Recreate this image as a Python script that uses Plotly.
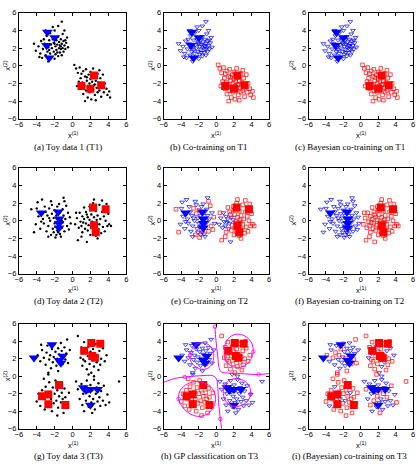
import plotly.graph_objects as go

W, H = 418, 467

# ---------------- DATA ----------------
# Toy data 1 (T1): cluster A (class "blue") and cluster B (class "red")
T1A = [(-4.1,1.7),(-3.8,2.2),(-3.6,1.4),(-3.5,2.8),(-3.4,0.9),(-3.3,1.9),(-3.2,3.0),(-3.1,2.5),(-3.0,1.2),(-2.9,3.4),
       (-2.8,1.6),(-2.7,2.1),(-2.7,0.5),(-2.6,2.9),(-2.5,1.4),(-2.5,3.7),(-2.4,2.4),(-2.3,1.0),(-2.3,2.0),(-2.2,3.0),
       (-2.1,1.6),(-2.1,2.6),(-2.0,0.8),(-2.0,4.0),(-1.9,2.2),(-1.9,1.3),(-1.8,2.9),(-1.8,1.8),(-1.7,2.4),(-1.6,1.1),
       (-1.6,3.3),(-1.5,2.0),(-1.5,2.7),(-1.4,1.5),(-1.4,2.3),(-1.3,1.9),(-1.3,3.0),(-1.2,2.5),(-1.2,1.2),(-1.1,2.0),
       (-1.1,3.6),(-1.0,2.8),(-1.0,1.6),(-0.9,2.3),(-0.9,4.0),(-0.8,1.9),(-0.7,2.6),(-0.6,3.2),(-0.5,2.1),(-1.2,5.0),
       (-2.2,4.4),(-3.0,4.0),(-1.6,4.5),(-4.3,2.5),(-3.7,1.0),(-2.6,1.8),(-1.7,1.5),(-2.0,2.5),(-1.3,2.2),(-0.8,2.9)]
T1B = [(0.2,0.1),(0.4,-0.3),(0.6,-0.8),(0.8,-0.2),(0.9,-1.4),(1.0,-2.6),(1.1,-1.9),(1.2,-0.6),(1.2,-3.2),(1.3,-2.2),
       (1.4,-1.2),(1.5,-2.8),(1.5,-0.4),(1.6,-1.7),(1.7,-3.6),(1.7,-2.4),(1.8,-1.0),(1.9,-2.0),(1.9,-3.0),(2.0,-1.5),
       (2.0,-0.7),(2.1,-2.3),(2.1,-3.8),(2.2,-1.8),(2.3,-2.7),(2.3,-0.3),(2.4,-1.3),(2.5,-2.1),(2.5,-3.3),(2.6,-1.7),
       (2.7,-2.5),(2.8,-0.9),(2.8,-3.0),(2.9,-1.9),(3.0,-2.8),(3.1,-1.4),(3.2,-3.5),(3.3,-2.4),(3.4,-1.0),(3.5,-3.0),
       (3.6,-2.0),(3.8,-2.6),(3.9,-3.3),(4.1,-2.9),(4.2,-3.6),(0.5,-2.3),(0.7,-1.8),(1.4,-4.0),(2.6,-3.9),(3.0,-0.5),
       (1.0,-0.9),(1.8,-2.6),(2.4,-2.2),(2.2,-1.0),(1.6,-1.3)]
T1_lab_blue = [(-2.8,3.8),(-2.0,3.2),(-2.9,2.3),(-2.6,0.9)]
T1_lab_red = [(2.4,-1.1),(1.0,-2.3),(3.2,-2.2),(2.0,-2.6)]

# Toy data 2 (T2)
T2A = [(-4.6,1.3),(-4.3,-1.3),(-4.1,-0.4),(-3.9,2.1),(-3.8,0.5),(-3.6,-0.9),(-3.4,2.4),(-3.3,0.2),(-3.2,-0.3),(-3.0,1.0),
       (-2.9,-1.2),(-2.8,0.6),(-2.7,-0.6),(-2.6,1.4),(-2.5,0.0),(-2.4,-1.6),(-2.3,0.8),(-2.2,-0.9),(-2.1,0.3),(-2.0,1.2),
       (-2.0,-0.3),(-1.9,-1.9),(-1.8,0.6),(-1.7,-1.1),(-1.7,1.6),(-1.6,0.1),(-1.5,-0.5),(-1.4,0.9),(-1.4,-1.5),(-1.3,0.3),
       (-1.2,-0.8),(-1.1,1.3),(-1.1,-0.2),(-1.0,2.6),(-1.0,0.6),(-0.9,-1.2),(-0.8,0.2),(-0.7,1.7),(-0.6,-0.6),(-0.5,0.9),
       (-0.4,-1.0),(-0.3,0.4),(-2.7,-1.8),(-3.5,-0.1),(-2.3,1.8),(-1.9,-0.7),(-1.3,-1.8),(-0.9,2.2),(-2.6,0.3),(-1.6,-1.3),
       (-2.1,-1.3),(-1.2,0.0),(-3.1,1.6),(-1.5,1.9),(-0.2,-0.3),(-4.0,1.4),(-2.4,2.2),(-1.8,-1.6)]
T2B = [(0.3,-0.4),(0.5,0.3),(0.6,-2.2),(0.7,-0.8),(0.8,0.9),(0.9,-0.1),(1.0,-0.6),(1.1,0.5),(1.1,-1.3),(1.2,-0.2),
       (1.3,0.2),(1.4,-0.9),(1.5,1.0),(1.5,-0.3),(1.6,-2.4),(1.7,0.4),(1.7,-1.1),(1.8,-0.5),(1.9,1.6),(1.9,0.1),
       (2.0,-1.6),(2.1,-0.8),(2.1,0.7),(2.2,-0.1),(2.3,2.0),(2.3,-1.2),(2.4,0.4),(2.5,-0.6),(2.6,1.1),(2.6,-1.7),
       (2.7,-0.2),(2.8,0.6),(2.9,-1.0),(3.0,1.8),(3.0,-0.4),(3.1,0.2),(3.2,-1.4),(3.3,1.0),(3.4,-0.7),(3.5,0.5),
       (3.6,-1.2),(3.7,0.0),(3.8,1.9),(3.9,-0.6),(4.0,0.8),(4.1,-0.4),(4.3,-0.6),(2.4,2.4),(1.3,1.5),(2.8,-2.0),
       (1.0,-1.8),(3.3,2.3),(2.0,1.2),(0.4,0.9),(2.7,0.1),(1.6,0.7)]
T2_lab_blue = [(-3.5,0.9),(-1.6,1.0),(-1.5,0.2),(-1.5,-0.3),(-1.5,-0.8)]
T2_lab_red = [(2.3,1.5),(3.7,1.3),(2.4,-0.5),(2.6,-1.3)]
# co-training on T2: points given the other class
T2A_flip_cotrain = [0,1,13,15,16,19,21,23,30,35,37,38,40,41,47]
T2B_flip_cotrain = [0,1,3,4,5,6,7,9,10,11,13,14,15,19]

# Toy data 3 (T3): four clusters (UL, LR -> blue ; UR, LL -> red)
T3UL = [(-3.9,2.4),(-3.6,1.7),(-3.4,3.0),(-3.2,2.1),(-3.0,1.3),(-2.9,2.7),(-2.8,3.5),(-2.6,1.9),(-2.5,2.4),(-2.4,0.9),
        (-2.3,3.1),(-2.2,1.6),(-2.1,2.2),(-2.0,3.7),(-1.9,2.8),(-1.8,1.2),(-1.7,2.0),(-1.6,3.2),(-1.5,2.5),(-1.4,1.7),
        (-1.3,3.8),(-1.2,2.9),(-1.1,1.4),(-1.0,2.2),(-0.9,3.3),(-0.8,1.9),(-0.7,2.6),(-0.5,1.5),(-0.3,3.0),(-1.6,0.6),
        (-2.7,0.4),(-0.6,4.2),(-3.5,3.6)]
T3UR = [(0.6,4.6),(0.9,2.1),(1.0,3.3),(1.1,1.2),(1.2,2.6),(1.3,3.9),(1.4,1.7),(1.5,2.9),(1.6,0.8),(1.7,2.3),
        (1.8,3.4),(1.9,1.4),(2.0,2.8),(2.1,0.4),(2.2,1.9),(2.3,3.1),(2.4,1.1),(2.5,2.5),(2.6,3.7),(2.7,1.6),
        (2.8,2.2),(2.9,0.7),(3.0,2.9),(3.1,1.3),(3.2,2.0),(3.4,3.2),(3.6,1.7),(3.8,2.4),(1.8,0.2),(2.4,0.0),
        (1.2,1.9),(3.3,4.0)]
T3LL = [(-4.0,-2.9),(-3.8,-2.0),(-3.6,-3.4),(-3.4,-1.6),(-3.3,-2.6),(-3.1,-3.8),(-3.0,-1.2),(-2.9,-2.2),(-2.8,-3.0),(-2.6,-0.7),
        (-2.5,-1.8),(-2.4,-2.6),(-2.3,-4.0),(-2.2,-1.3),(-2.1,-3.1),(-2.0,-2.0),(-1.9,-0.5),(-1.8,-2.8),(-1.7,-1.6),(-1.6,-3.6),
        (-1.5,-2.3),(-1.4,-0.9),(-1.3,-3.0),(-1.2,-1.9),(-1.1,-2.6),(-1.0,-4.2),(-0.9,-1.4),(-0.8,-2.4),(-0.6,-3.1),(-0.4,-1.9),
        (-1.7,-4.5),(-2.7,0.2),(-3.2,-0.3)]
T3LR = [(0.4,-0.6),(0.6,-1.5),(0.8,-2.6),(1.0,-0.9),(1.1,-3.3),(1.2,-2.0),(1.3,-4.0),(1.4,-1.2),(1.5,-2.8),(1.6,-0.5),
        (1.7,-1.8),(1.8,-3.5),(1.9,-2.3),(2.0,-1.0),(2.1,-3.0),(2.2,-1.6),(2.3,-2.6),(2.4,-0.4),(2.5,-3.8),(2.6,-2.0),
        (2.7,-1.3),(2.8,-2.9),(2.9,-0.8),(3.0,-2.4),(3.1,-3.4),(3.2,-1.7),(3.4,-2.8),(3.5,-1.1),(3.7,-3.3),(3.9,-2.1),
        (4.1,-3.0),(5.2,-0.6),(2.2,-4.2)]
T3_lab_blue = [(-2.3,3.6),(-4.3,2.1),(-1.5,1.8),(-1.1,2.3),(-1.3,1.5),(1.2,-1.3),(1.5,-1.6),(2.0,-1.5),(2.8,-1.5),(2.0,-3.3)]
T3_lab_red = [(2.1,3.8),(3.1,3.7),(1.3,2.9),(2.2,2.3),(2.5,2.1),(-3.4,-2.3),(-2.7,-2.1),(-1.5,-1.0),(-2.7,-3.2),(-0.8,-3.3)]
# GP classification flips (points on the other side of the boundary)
T3LL_flip_gp = [31]
T3UR_flip_gp = [28, 29]
# (Bayesian) co-training on T3 flips
T3UL_flip_co = [0,3,5,8,10,13,16,19,22,25,27,29,30,31]
T3UR_flip_co = [1,4,7,10,13,16,19,22,25,27,29]
T3LL_flip_co = [2,6,11,17,23,28]
T3LR_flip_co = [1,4,8,12,15,19,23,27,30,31,32]

# GP decision boundary (zero contour)
GP_top_branch = [(-0.17,5.66),(-0.05,4.1),(0.15,2.3),(0.3,1.0),(0.55,0.5),(1.0,0.38),(2.4,0.32),(3.9,0.22),(4.8,0.2),(6.0,0.3)]
GP_left_branch = [(-6.0,-0.7),(-4.7,-0.25),(-3.6,-0.1),(-1.8,0.05),(-0.4,0.05),(0.0,-0.3),(0.15,-1.2),(0.25,-3.0),(0.45,-4.9),(0.6,-6.0)]
GP_loop_UL = [(-1.6,3.8),(-0.9,3.6),(-0.4,3.0),(-0.3,2.2),(-0.5,1.4),(-1.0,0.9),(-1.7,0.8),(-2.4,1.1),(-2.9,1.7),(-3.0,2.4),(-2.7,3.2),(-2.2,3.7),(-1.6,3.8)]
GP_loop_UR = [(2.5,4.8),(3.4,4.5),(4.0,3.8),(4.2,2.8),(3.9,1.9),(3.2,1.2),(2.4,1.0),(1.6,1.2),(1.0,1.9),(0.9,2.9),(1.1,3.9),(1.7,4.6),(2.5,4.8)]
GP_loop_LL = [(-2.3,-0.6),(-1.3,-0.8),(-0.5,-1.4),(-0.1,-2.4),(-0.3,-3.5),(-1.0,-4.3),(-2.0,-4.6),(-3.0,-4.3),(-3.8,-3.6),(-4.3,-2.6),(-4.1,-1.6),(-3.3,-0.9),(-2.3,-0.6)]
GP_loop_LR = [(2.2,-0.3),(3.1,-0.5),(3.7,-1.1),(3.9,-2.0),(3.5,-2.9),(2.7,-3.4),(1.8,-3.4),(1.1,-2.9),(0.8,-2.0),(0.9,-1.1),(1.4,-0.5),(2.2,-0.3)]
GP_label_pts = [(-0.17,5.66),(4.8,0.2),(-3.6,-0.1),(0.45,-4.9),(-3.0,2.4),(4.2,2.8),(-4.3,-2.6),(3.9,-2.0)]

CAPTIONS = ["(a) Toy data 1 (T1)", "(b) Co-training on T1", "(c) Bayesian co-training on T1",
            "(d) Toy data 2 (T2)", "(e) Co-training on T2", "(f) Bayesian co-training on T2",
            "(g) Toy data 3 (T3)", "(h) GP classification on T3", "(i) (Bayesian) co-training on T3"]
TICKS = [-6, -4, -2, 0, 2, 4, 6]

# ---------------- LAYOUT HELPERS ----------------
BLUE, RED, MAG = "#0000ff", "#ff0000", "#ff00ff"
COLS = [(15, 124), (162, 269), (309, 415)]
ROWS = [(9, 117), (167, 275), (326, 433)]
YT_X = [3, 150, 293]
CAP_X = [65, 208, 351]
CAP_Y = [146, 303, 461]

def px(x):
    return x / W

def py(y):
    return 1 - y / H

fig = go.Figure()

def split(pts):
    return [p[0] for p in pts], [p[1] for p in pts]

def add(k, pts, **kw):
    if not pts:
        return
    xs, ys = split(pts)
    ax = "" if k == 1 else str(k)
    fig.add_trace(go.Scatter(x=xs, y=ys, xaxis="x" + ax, yaxis="y" + ax, showlegend=False,
                             hoverinfo="skip", **kw))

def dots(k, pts):
    add(k, pts, mode="markers", marker=dict(symbol="circle", size=2.4, color="black", line=dict(width=0)))

def open_blue(k, pts):
    add(k, pts, mode="markers", marker=dict(symbol="triangle-down-open", size=4.2, color=BLUE, line=dict(width=0.7, color=BLUE)))

def open_red(k, pts):
    add(k, pts, mode="markers", marker=dict(symbol="square-open", size=3.6, color=RED, line=dict(width=0.7, color=RED)))

def labeled(k, blue, red):
    add(k, blue, mode="markers", marker=dict(symbol="triangle-down", size=9.5, color=BLUE, line=dict(width=0)))
    add(k, red, mode="markers", marker=dict(symbol="square", size=8, color=RED, line=dict(width=0)))

def split_flip(pts, flips):
    keep = [p for i, p in enumerate(pts) if i not in flips]
    flip = [p for i, p in enumerate(pts) if i in flips]
    return keep, flip

# ---------------- PANELS ----------------
# Row 1 (T1)
dots(1, T1A + T1B); labeled(1, T1_lab_blue, T1_lab_red)
for k in (2, 3):
    open_blue(k, T1A); open_red(k, T1B); labeled(k, T1_lab_blue, T1_lab_red)

# Row 2 (T2)
dots(4, T2A + T2B); labeled(4, T2_lab_blue, T2_lab_red)
a_keep, a_flip = split_flip(T2A, T2A_flip_cotrain)
b_keep, b_flip = split_flip(T2B, T2B_flip_cotrain)
open_blue(5, a_keep + b_flip); open_red(5, b_keep + a_flip); labeled(5, T2_lab_blue, T2_lab_red)
open_blue(6, T2A); open_red(6, T2B); labeled(6, T2_lab_blue, T2_lab_red)

# Row 3 (T3)
dots(7, T3UL + T3UR + T3LL + T3LR); labeled(7, T3_lab_blue, T3_lab_red)

ur_keep, ur_flip = split_flip(T3UR, T3UR_flip_gp)
ll_keep, ll_flip = split_flip(T3LL, T3LL_flip_gp)
open_blue(8, T3UL + T3LR + ur_flip + ll_flip); open_red(8, ur_keep + ll_keep)
labeled(8, T3_lab_blue, T3_lab_red)
for br in (GP_top_branch, GP_left_branch):
    add(8, br, mode="lines", line=dict(color=MAG, width=1, shape="spline"))
for lp in (GP_loop_UL, GP_loop_UR, GP_loop_LL, GP_loop_LR):
    add(8, lp, mode="lines", line=dict(color=MAG, width=1, shape="spline"))
add(8, GP_label_pts, mode="markers", marker=dict(symbol="circle-open", size=3.5, color=MAG, line=dict(width=0.8, color=MAG)))

ul_k, ul_f = split_flip(T3UL, T3UL_flip_co)
ur_k, ur_f = split_flip(T3UR, T3UR_flip_co)
ll_k, ll_f = split_flip(T3LL, T3LL_flip_co)
lr_k, lr_f = split_flip(T3LR, T3LR_flip_co)
open_blue(9, ul_k + lr_k + ur_f + ll_f); open_red(9, ur_k + ll_k + ul_f + lr_f)
labeled(9, T3_lab_blue, T3_lab_red)

# ---------------- AXES ----------------
axis_common = dict(range=[-6, 6], tickvals=TICKS, ticktext=[str(t).replace("-", "\u2212") for t in TICKS],
                   ticks="inside", ticklen=3, tickwidth=0.8, tickcolor="black",
                   showline=True, linecolor="black", linewidth=0.8, mirror="allticks",
                   showgrid=False, zeroline=False,
                   tickfont=dict(family="Liberation Sans, Arial", size=7.5, color="black"))
layout = {}
ann = []
for r in range(3):
    for c in range(3):
        k = r * 3 + 1 + c
        s = "" if k == 1 else str(k)
        x0, x1 = COLS[c]
        y0, y1 = ROWS[r]
        layout["xaxis" + s] = dict(axis_common, domain=[px(x0), px(x1)], anchor="y" + s, ticklabelstandoff=-2)
        layout["yaxis" + s] = dict(axis_common, domain=[py(y1), py(y0)], anchor="x" + s)
        ann.append(dict(x=px((x0 + x1) / 2), y=py(y1 + 16.5), xref="paper", yref="paper",
                        text="x<sup>(1)</sup>", showarrow=False, xanchor="center", yanchor="middle",
                        font=dict(family="Liberation Sans, Arial", size=7.5, color="black")))
        ann.append(dict(x=px(YT_X[c]), y=py((y0 + y1) / 2), xref="paper", yref="paper",
                        text="x<sup>(2)</sup>", showarrow=False, xanchor="center", yanchor="middle",
                        textangle=-90, font=dict(family="Liberation Sans, Arial", size=7.5, color="black")))
        ann.append(dict(x=px(CAP_X[c]), y=py(CAP_Y[r]), xref="paper", yref="paper",
                        text=CAPTIONS[k - 1], showarrow=False, xanchor="center", yanchor="middle",
                        font=dict(family="Liberation Serif, Times New Roman", size=9, color="black")))

fig.update_layout(width=W, height=H, margin=dict(l=0, r=0, t=0, b=0),
                  paper_bgcolor="white", plot_bgcolor="white", showlegend=False,
                  annotations=ann, **layout)

fig.write_html("out.html")
